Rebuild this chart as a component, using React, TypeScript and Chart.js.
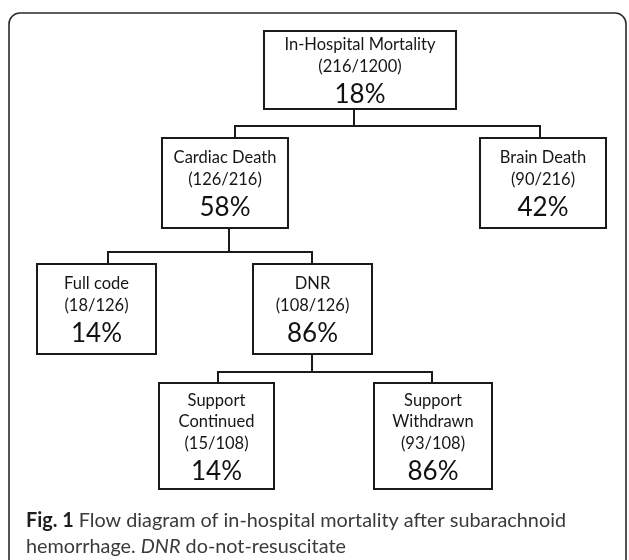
import React, { useEffect, useRef } from "react";
import { Chart, registerables } from "chart.js";

Chart.register(...registerables);

// ---- data ----
const nodeNames: string[][] = [
  ["In-Hospital Mortality"],
  ["Cardiac Death"],
  ["Brain Death"],
  ["Full code"],
  ["DNR"],
  ["Support", "Continued"],
  ["Support", "Withdrawn"],
];
const nodeCounts = [216, 126, 90, 18, 108, 15, 93];
const nodeTotals = [1200, 216, 216, 126, 126, 108, 108];
const nodePercents = [18, 58, 42, 14, 86, 14, 86];
const nodeParents = [-1, 0, 0, 1, 1, 4, 4];

const captionLine1Bold = "Fig. 1";
const captionLine1 = " Flow diagram of in-hospital mortality after subarachnoid";
const captionLine2a = "hemorrhage. ";
const captionLine2Italic = "DNR";
const captionLine2b = " do-not-resuscitate";

// ---- layout (data units of the hidden linear scales) ----
const boxLayout = [
  { x0: 264, x1: 456, y0: 31, y1: 109, stem: 354, drop: 0, bar: 126 },
  { x0: 162, x1: 288, y0: 138, y1: 228, stem: 229, drop: 235, bar: 252 },
  { x0: 480, x1: 606, y0: 138, y1: 228, stem: 0, drop: 540, bar: 0 },
  { x0: 37, x1: 156, y0: 264, y1: 354, stem: 0, drop: 108, bar: 0 },
  { x0: 253, x1: 372, y0: 264, y1: 354, stem: 312, drop: 312, bar: 372 },
  { x0: 159, x1: 274, y0: 383, y1: 489, stem: 0, drop: 218, bar: 0 },
  { x0: 374, x1: 492, y0: 383, y1: 489, stem: 0, drop: 432, bar: 0 },
];

const LINE = "#1a1a1a";

function buildConnectors() {
  const sets: any[] = [];
  const parentsWithKids = Array.from(new Set(nodeParents.filter((p) => p >= 0)));
  parentsWithKids.forEach((p) => {
    const pl = boxLayout[p];
    const kids = nodeParents.map((q, i) => (q === p ? i : -1)).filter((i) => i >= 0);
    sets.push({
      data: [
        { x: pl.stem, y: pl.y1 },
        { x: pl.stem, y: pl.bar },
      ],
    });
    const a = boxLayout[kids[0]];
    const b = boxLayout[kids[kids.length - 1]];
    sets.push({
      data: [
        { x: a.drop, y: a.y0 },
        { x: a.drop, y: pl.bar },
        { x: b.drop, y: pl.bar },
        { x: b.drop, y: b.y0 },
      ],
    });
  });
  return sets.map((s) => ({
    ...s,
    showLine: true,
    borderColor: LINE,
    borderWidth: 2,
    pointRadius: 0,
    fill: false,
    tension: 0,
    clip: false,
    borderCapStyle: "square",
    borderJoinStyle: "miter",
  }));
}

const flowPlugin = {
  id: "flowBoxes",
  afterDatasetsDraw(chart: any) {
    const ctx: CanvasRenderingContext2D = chart.ctx;
    const xs = chart.scales.x;
    const ys = chart.scales.y;
    const px = (v: number) => xs.getPixelForValue(v);
    const py = (v: number) => ys.getPixelForValue(v);

    ctx.save();
    // outer frame
    ctx.strokeStyle = "#2a2a2a";
    ctx.lineWidth = 1.6;
    ctx.beginPath();
    const fx0 = px(9), fy0 = py(13), fx1 = px(626), fy1 = py(620), r = 11;
    ctx.moveTo(fx0, fy1);
    ctx.lineTo(fx0, fy0 + r);
    ctx.arcTo(fx0, fy0, fx0 + r, fy0, r);
    ctx.lineTo(fx1 - r, fy0);
    ctx.arcTo(fx1, fy0, fx1, fy0 + r, r);
    ctx.lineTo(fx1, fy1);
    ctx.stroke();

    // boxes
    nodeNames.forEach((names, i) => {
      const l = boxLayout[i];
      const x0 = px(l.x0), x1 = px(l.x1), y0 = py(l.y0), y1 = py(l.y1);
      ctx.fillStyle = "#ffffff";
      ctx.fillRect(x0, y0, x1 - x0, y1 - y0);
      ctx.strokeStyle = LINE;
      ctx.lineWidth = 2;
      ctx.strokeRect(x0, y0, x1 - x0, y1 - y0);

      const cx = (x0 + x1) / 2;
      const cy = (y0 + y1) / 2;
      const lines = [...names, `(${nodeCounts[i]}/${nodeTotals[i]})`];
      const gapSmall = 21.5;
      const gapBig = 28.5;
      const total = (lines.length - 1) * gapSmall + gapBig;
      let y = cy - total / 2;
      ctx.fillStyle = "#161616";
      ctx.textAlign = "center";
      ctx.textBaseline = "middle";
      ctx.font = "16.5px Lato";
      lines.forEach((t) => {
        ctx.fillText(t, cx, y);
        y += gapSmall;
      });
      y += gapBig - gapSmall;
      ctx.font = "26px Lato";
      ctx.fillStyle = "#111";
      ctx.fillText(`${nodePercents[i]}%`, cx, y);
    });

    // caption
    const capX = px(26);
    const capTarget = 540;
    const fBold = "bold 20px Lato";
    const fReg = "20px Lato";
    const fIt = "italic 20px Lato";
    ctx.font = fBold;
    const wB = ctx.measureText(captionLine1Bold).width;
    ctx.font = fReg;
    const w1 = ctx.measureText(captionLine1).width;
    const k = capTarget / (wB + w1);
    ctx.textAlign = "left";
    ctx.textBaseline = "alphabetic";

    ctx.save();
    ctx.translate(capX, py(527));
    ctx.scale(k, 1);
    ctx.font = fBold;
    ctx.fillStyle = "#1e1e1e";
    ctx.fillText(captionLine1Bold, 0, 0);
    ctx.font = fReg;
    ctx.fillStyle = "#3a3a3a";
    ctx.fillText(captionLine1, wB, 0);
    ctx.restore();

    ctx.save();
    ctx.translate(capX, py(553));
    ctx.scale(k, 1);
    ctx.fillStyle = "#3a3a3a";
    ctx.font = fReg;
    ctx.fillText(captionLine2a, 0, 0);
    let cx2 = ctx.measureText(captionLine2a).width;
    ctx.font = fIt;
    ctx.fillText(captionLine2Italic, cx2, 0);
    cx2 += ctx.measureText(captionLine2Italic).width;
    ctx.font = fReg;
    ctx.fillText(captionLine2b, cx2, 0);
    ctx.restore();

    ctx.restore();
  },
};

export default function App() {
  const ref = useRef<HTMLCanvasElement>(null);
  useEffect(() => {
    if (!ref.current) return;
    const chart = new Chart(ref.current, {
      type: "scatter",
      data: { datasets: buildConnectors() as any },
      options: {
        animation: false,
        responsive: false,
        maintainAspectRatio: false,
        events: [],
        layout: { padding: 0 },
        plugins: {
          legend: { display: false },
          tooltip: { enabled: false },
        },
        scales: {
          x: { type: "linear", display: false, min: 0, max: 629 },
          y: { type: "linear", display: false, min: 0, max: 560, reverse: true },
        },
      },
      plugins: [flowPlugin],
    });
    return () => chart.destroy();
  }, []);
  return (
    <div
      style={{
        position: "fixed",
        left: 0,
        top: 0,
        width: 629,
        height: 560,
        background: "#ffffff",
        overflow: "hidden",
      }}
    >
      <canvas
        ref={ref}
        width={629}
        height={560}
        style={{ display: "block", width: 629, height: 560 }}
      />
    </div>
  );
}
